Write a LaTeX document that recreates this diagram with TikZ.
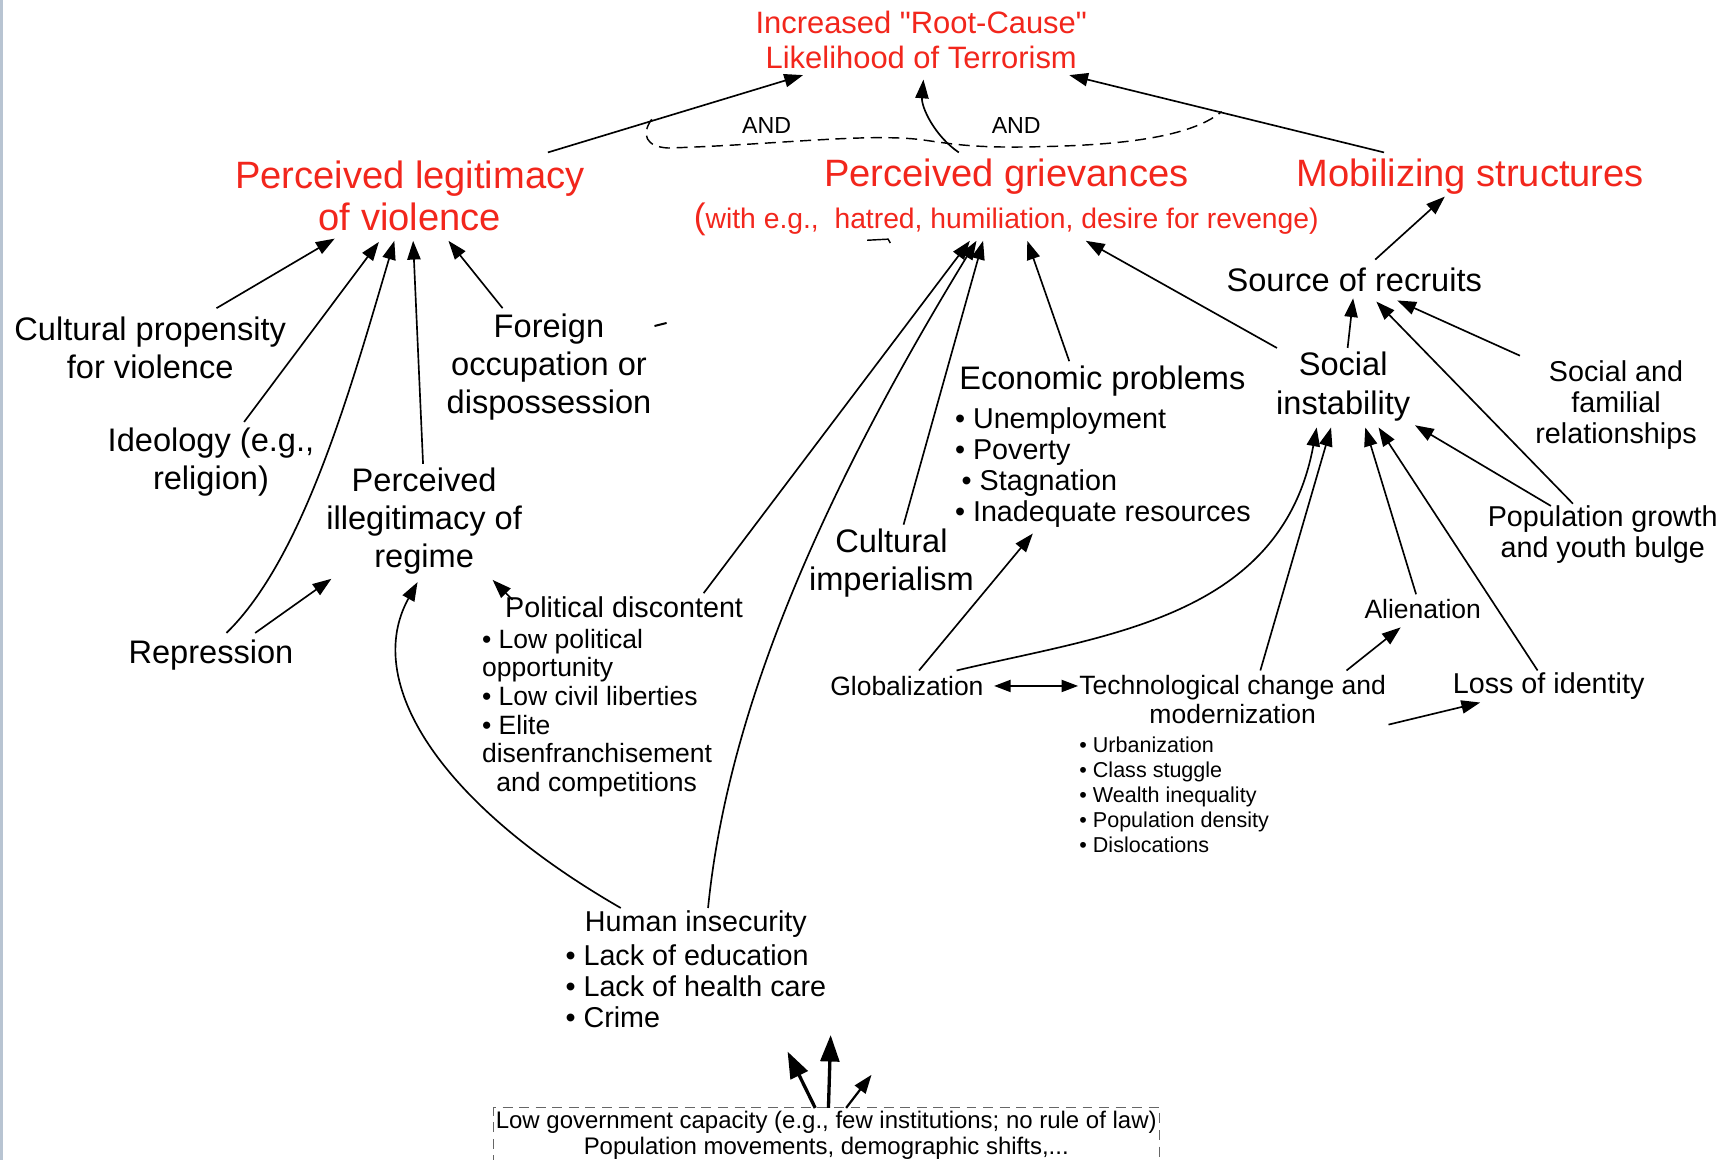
\documentclass[tikz,border=0pt]{standalone}
\usepackage{fontspec}
\setmainfont{Liberation Sans}[Ligatures=TeXOff]
\usetikzlibrary{arrows.meta}
\definecolor{hdred}{RGB}{242,38,28}
\definecolor{edgegray}{RGB}{184,196,210}

\begin{document}
\begin{tikzpicture}[x=1pt,y=-1pt,
  every node/.style={inner sep=0pt, align=center},
  hd/.style={text=hdred, font=\fontsize{34.5}{38}\selectfont},
  goal/.style={text=hdred, font=\fontsize{28}{32}\selectfont},
  sub/.style={text=hdred, font=\fontsize{25.6}{28}\selectfont},
  lbl/.style={font=\fontsize{29.5}{34.5}\selectfont},
  mid/.style={font=\fontsize{26}{28}\selectfont},
  sm/.style={font=\fontsize{24}{26}\selectfont},
  tiny/.style={font=\fontsize{19.5}{22.7}\selectfont},
  andlbl/.style={font=\fontsize{21}{24}\selectfont},
  link/.style={line width=1.5pt, -{Triangle[length=17pt,width=12pt]}},
  bothlink/.style={line width=1.5pt, {Triangle[length=15pt,width=11pt]}-{Triangle[length=15pt,width=11pt]}},
  heavy/.style={line width=3pt, -{Triangle[length=24pt,width=17pt]}},
  medium/.style={line width=2pt, -{Triangle[length=17pt,width=12pt]}},
  andarc/.style={line width=1.3pt, dash pattern=on 10pt off 6pt},
  boxedge/.style={line width=1pt, gray!80!black, dash pattern=on 9pt off 6pt}
]
\useasboundingbox (0,0) rectangle (1568,1050);
\fill[white] (0,0) rectangle (1568,1050);
\fill[edgegray] (0,0) rectangle (2.5,1050);

% ---- top level ----
\node[goal] (top) at (834,36) {Increased "Root-Cause"\\Likelihood of Terrorism};
\node[hd] (legit) at (371,177) {Perceived legitimacy\\of violence};
\node[hd] (griev) at (911,160) {Perceived grievances};
\node[sub] (grievsub) at (911,199) {{\fontsize{32}{32}\selectfont(}with e.g.,\ \ hatred, humiliation, desire for revenge)};
\node[hd] (mob) at (1331,160) {Mobilizing structures};
\node[andlbl] (and1) at (694,114) {AND};
\node[andlbl] (and2) at (920,114) {AND};

% ---- left branch ----
\node[lbl] (cult) at (136,315) {Cultural propensity\\for violence};
\node[lbl] (foreign) at (497,332) {Foreign\\occupation or\\dispossession};
\node[lbl] (ideol) at (191,418) {Ideology (e.g.,\\religion)};
\node[lbl] (illeg) at (384,472) {Perceived\\illegitimacy of\\regime};
\node[lbl] (repr) at (191,593) {Repression};
\node[mid] (pold) at (565,550) {Political discontent};
\node[sm, align=left] (poldlist) at (540.5,645.5)
  {• Low political\\opportunity\\• Low civil liberties\\• Elite\\disenfranchisement\\\hspace*{13pt}and competitions};

% ---- middle branch ----
\node[lbl] (econ) at (998,345) {Economic problems};
\node[mid, align=left] (econlist) at (998.5,423.5)
  {• Unemployment\\• Poverty\\\hspace*{6pt}• Stagnation\\• Inadequate resources};
\node[lbl] (cimp) at (807,510) {Cultural\\imperialism};
\node[sm] (glob) at (821,621) {Globalization};
\node[sm] (tech) at (1116,633) {Technological change and\\modernization};
\node[tiny, align=left] (techlist) at (1063,719.5)
  {• Urbanization\\• Class stuggle\\• Wealth inequality\\• Population density\\• Dislocations};
\node[mid] (human) at (630,837) {Human insecurity};
\node[mid, align=left] (humanlist) at (630,893)
  {• Lack of education\\• Lack of health care\\• Crime};

% ---- right branch ----
\node[lbl] (src) at (1226,253) {Source of recruits};
\node[lbl] (socinst) at (1216,350) {Social\\instability};
\node[mid] (fam) at (1463,367) {Social and\\familial\\relationships};
\node[mid] (popg) at (1451,484) {Population growth\\and youth bulge};
\node[sm] (alien) at (1288,551) {Alienation};
\node[mid] (loss) at (1402,621) {Loss of identity};

% ---- base conditions ----
\node[font=\fontsize{21.7}{24}\selectfont] (lowa) at (748,1016) {Low government capacity (e.g., few institutions; no rule of law)};
\node[font=\fontsize{21.7}{24}\selectfont] (lowb) at (748,1040) {Population movements, demographic shifts,...};
\draw[boxedge] (447,1070) |- (1050,1003) -- (1050,1070);
\coordinate (b1) at (738,1003);
\coordinate (b2) at (750,1003);
\coordinate (b3) at (766,1003);
\coordinate (t1) at (713,952);
\coordinate (t2) at (752,937);
\coordinate (t3) at (789,973);
\draw[heavy] (b1) -- (t1);
\draw[heavy] (b2) -- (t2);
\draw[medium] (b3) -- (t3);

% ---- into the root cause ----
\draw[link] ([shift={(125,-39)}]legit.center) -- ([shift={(-107,32)}]top.center);
\draw[link] ([shift={(-43,-22)}]griev.center) .. controls +(-22,-15) and +(-2,25) .. ([shift={(2,36)}]top.center);
\draw[link] ([shift={(-78,-22)}]mob.center) -- ([shift={(134,32)}]top.center);
\coordinate (anda) at (590,108);
\coordinate (andb) at (1106,101);
\draw[andarc] (anda) .. controls (580,122) and (585,133) .. (605,134)
  .. controls (700,131) and (780,121) .. (830,126)
  .. controls (855,129) and (875,134) .. (930,133)
  .. controls (1000,132) and (1075,127) .. (andb);

% ---- legitimacy of violence ----
\draw[link] ([shift={(60,-36)}]cult.center) -- ([shift={(-68,39)}]legit.center);
\draw[link] ([shift={(30,-36)}]ideol.center) -- ([shift={(-28,42)}]legit.center);
\draw[link] ([shift={(14,-20)}]repr.center) .. controls +(70,-68) and +(-39,132) .. ([shift={(-14,41)}]legit.center);
\draw[link] ([shift={(-1,-52)}]illeg.center) -- ([shift={(3,41)}]legit.center);
\draw[link] ([shift={(-42,-53)}]foreign.center) -- ([shift={(35,41)}]legit.center);

% ---- illegitimacy of regime ----
\draw[link] ([shift={(40,-20)}]repr.center) -- ([shift={(-84,52)}]illeg.center);
\draw[link] ([shift={(-68,-15)}]human.center) .. controls +(-165,-95) and +(-50,90) .. ([shift={(-6,55)}]illeg.center);
\draw[link] ([shift={(-101,-7)}]pold.center) -- ([shift={(62,53)}]illeg.center);

% ---- grievances ----
\draw[link] ([shift={(72,-13)}]pold.center) -- ([shift={(-33,19)}]grievsub.center);
\draw[link] ([shift={(11,-15)}]human.center) .. controls +(15,-150) and +(-165,270) .. ([shift={(-27,19)}]grievsub.center);
\draw[link] ([shift={(11,-35)}]cimp.center) -- ([shift={(-21,19)}]grievsub.center);
\draw[link] ([shift={(-30,-18)}]econ.center) -- ([shift={(19,19)}]grievsub.center);
\draw[link] ([shift={(-60,-35)}]socinst.center) -- ([shift={(72,19)}]grievsub.center);

% ---- globalization and modernization ----
\draw[link] ([shift={(11,-14)}]glob.center) -- ([shift={(-63.5,59.5)}]econlist.center);
\draw[link] ([shift={(45,-14)}]glob.center) .. controls +(134,-32) and +(-32,173) .. ([shift={(-24,37)}]socinst.center);
\draw[bothlink] ([shift={(79,0)}]glob.center) -- ([shift={(-140,-12)}]tech.center);
\draw[link] ([shift={(25,-26)}]tech.center) -- ([shift={(-11,37)}]socinst.center);
\draw[link] ([shift={(103,-26)}]tech.center) -- ([shift={(-20,17)}]alien.center);
\draw[link] ([shift={(141,23)}]tech.center) -- ([shift={(-62,15)}]loss.center);

% ---- social instability ----
\draw[link] ([shift={(-6,-13)}]alien.center) -- ([shift={(20,37)}]socinst.center);
\draw[link] ([shift={(-10,-14)}]loss.center) -- ([shift={(32,37)}]socinst.center);
\draw[link] ([shift={(-47,-26)}]popg.center) -- ([shift={(65,35)}]socinst.center);

% ---- recruits and mobilization ----
\draw[link] ([shift={(4,-35)}]socinst.center) -- ([shift={(-1,17)}]src.center);
\draw[link] ([shift={(-27,-28)}]popg.center) -- ([shift={(20,20)}]src.center);
\draw[link] ([shift={(-87,-45)}]fam.center) -- ([shift={(39,19)}]src.center);
\draw[link] ([shift={(19,-18)}]src.center) -- ([shift={(-23,18)}]mob.center);

% ---- stray pen strokes ----
\draw[line width=1.3pt] (785,217.5) -- (804,216.5) -- (806,220);
\draw[line width=1.8pt, line cap=round] (593,295) -- (603,292.5);
\end{tikzpicture}
\end{document}
